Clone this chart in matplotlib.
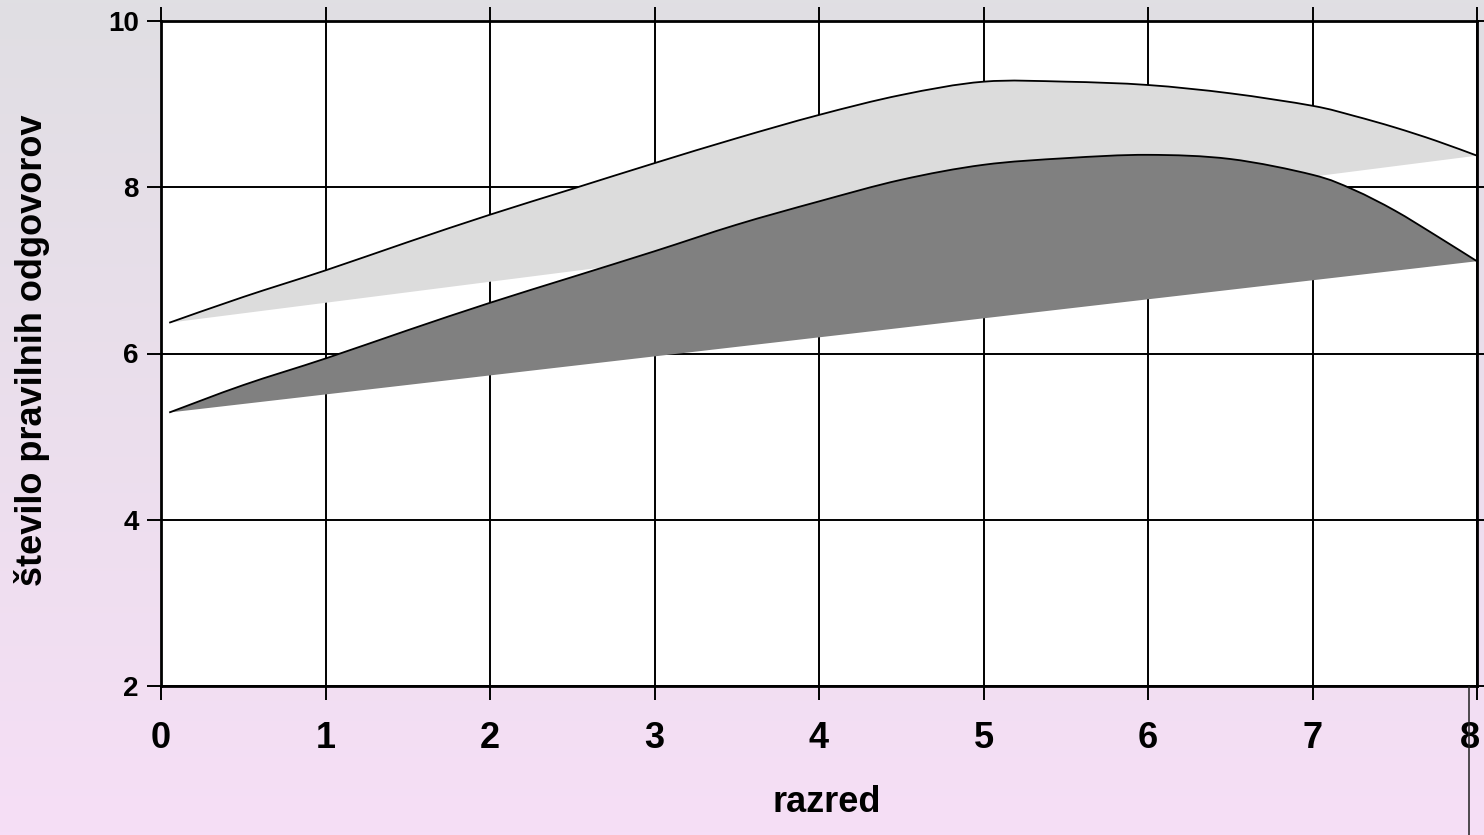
import numpy as np
import matplotlib
matplotlib.use("Agg")
import matplotlib.pyplot as plt
from matplotlib.lines import Line2D
from matplotlib.path import Path
from matplotlib.patches import PathPatch
from matplotlib.transforms import ScaledTranslation

plt.rcParams['font.family'] = ['Liberation Sans', 'DejaVu Sans']
plt.rcParams['font.weight'] = 'bold'

# data
x = [0.05, 0.5, 1, 1.5, 2, 2.5, 3, 3.5, 4, 4.5, 5, 5.5, 6, 6.5, 7, 7.25, 7.5, 7.75, 8]
upper_top = [6.37, 6.68, 7.00, 7.34, 7.67, 7.98, 8.29, 8.59, 8.87, 9.11, 9.27, 9.27,
             9.23, 9.13, 8.98, 8.86, 8.72, 8.56, 8.38]
lower_top = [5.29, 5.62, 5.94, 6.28, 6.61, 6.92, 7.23, 7.55, 7.83, 8.09, 8.27, 8.35,
             8.39, 8.34, 8.15, 7.97, 7.72, 7.42, 7.11]
upper_base = [6.37, 8.38]   # straight lower edge of light band (x0 -> 8)
lower_base = [5.29, 7.11]   # straight lower edge of dark band
base_x = [0.05, 8]

xticks = [0, 1, 2, 3, 4, 5, 6, 7, 8]
yticks = [2, 4, 6, 8, 10]


def smooth_path(xs, ys):
    """Smoothed line through the points as cubic Bezier segments (Catmull-Rom)."""
    p = np.column_stack([xs, ys])
    verts = [p[0]]
    codes = [Path.MOVETO]
    n = len(p)
    for i in range(n - 1):
        p0 = p[i - 1] if i > 0 else p[i]
        p1, p2 = p[i], p[i + 1]
        p3 = p[i + 2] if i + 2 < n else p[i + 1]
        verts += [p1 + (p2 - p0) / 6, p2 - (p3 - p1) / 6, p2]
        codes += [Path.CURVE4] * 3
    return np.array(verts), codes


def band(ax, xs, top_ys, bx, by, fill, z):
    verts, codes = smooth_path(xs, top_ys)
    # close along the straight base line
    fverts = np.vstack([verts, [[bx[1], by[1]], [bx[0], by[0]], verts[0]]])
    fcodes = codes + [Path.LINETO, Path.LINETO, Path.CLOSEPOLY]
    ax.add_patch(PathPatch(Path(fverts, fcodes), facecolor=fill,
                           edgecolor='none', zorder=z))
    ax.add_patch(PathPatch(Path(verts, codes), facecolor='none',
                           edgecolor='black', linewidth=1.3, zorder=z + 1))


W, H = 1484, 835
fig = plt.figure(figsize=(W / 100, H / 100), dpi=100)

# background gradient (grey at top -> pink at bottom)
bg = fig.add_axes([0, 0, 1, 1], zorder=-10)
top_c = np.array([224, 223, 227]) / 255
bot_c = np.array([246, 222, 246]) / 255
t = np.linspace(0, 1, 256)[:, None]
grad = (top_c * (1 - t) + bot_c * t)[:, None, :]
bg.imshow(grad, aspect='auto', extent=[0, 1, 0, 1])
bg.axis('off')

left, right = 161 / W, 1477 / W
top, bottom = 1 - 21 / H, 1 - 686 / H
ax = fig.add_axes([left, bottom, right - left, top - bottom])
ax.set_facecolor('white')

ax.set_xlim(0, 8)
ax.set_ylim(2, 10)
ax.set_xticks(xticks)
ax.set_yticks(yticks)
ax.set_axisbelow(True)
ax.grid(True, color='black', linewidth=1.4)

band(ax, x, upper_top, base_x, upper_base, '#dcdcdc', 2)
band(ax, x, lower_top, base_x, lower_base, '#808080', 4)

for s in ax.spines.values():
    s.set_linewidth(2.0)
    s.set_color('black')
    s.set_zorder(6)

ax.tick_params(axis='both', which='both', direction='out', length=10, width=1.4,
               top=True, right=True, color='black')
ax.tick_params(axis='x', labelsize=26, pad=15)
ax.tick_params(axis='y', labelsize=20, pad=6)
for lab in ax.get_xticklabels() + ax.get_yticklabels():
    lab.set_fontweight('bold')
# last x label sits a little left of its tick, as in the reference
last = ax.get_xticklabels()[-1]
last.set_transform(last.get_transform() + ScaledTranslation(-7 / 100, 0, fig.dpi_scale_trans))

fig.text(32 / W, 1 - 350 / H, 'število pravilnih odgovorov', rotation=90,
         ha='center', va='center', fontsize=26, fontweight='bold')
fig.text(827 / W, 1 - 803 / H, 'razred', ha='center', va='center',
         fontsize=26, fontweight='bold')

# stray vertical line at the lower right
fig.add_artist(Line2D([1469 / W, 1469 / W], [0, 1 - 687 / H],
                      color='#202020', linewidth=1.1))

fig.savefig('out.png', dpi=100)
